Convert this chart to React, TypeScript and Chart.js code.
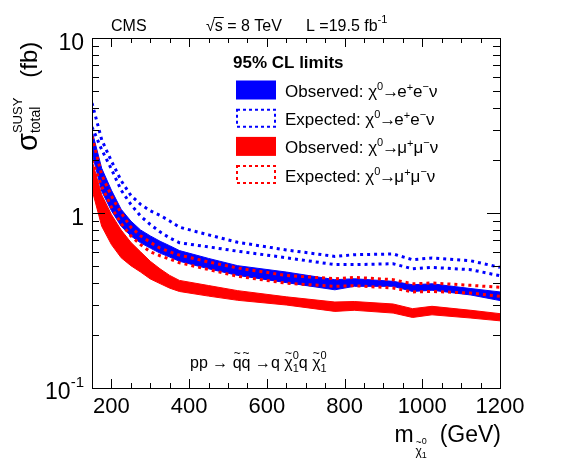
import React, { useEffect, useRef } from "react";
import { Chart, registerables } from "chart.js";

Chart.register(...registerables);

// ---- data ----
const masses = [150, 175, 200, 225, 250, 275, 300, 325, 350, 375, 450, 525, 650, 775, 825, 925, 975, 1025, 1125, 1200];

const eeObservedHigh = [2.95, 1.8, 1.35, 1.05, 0.9, 0.8, 0.74, 0.69, 0.65, 0.61, 0.55, 0.5, 0.46, 0.416, 0.421, 0.407, 0.389, 0.394, 0.37, 0.354];
const eeObservedLow = [2.2, 1.33, 1.03, 0.84, 0.74, 0.675, 0.63, 0.59, 0.56, 0.53, 0.48, 0.44, 0.4, 0.364, 0.381, 0.381, 0.356, 0.362, 0.34, 0.316];

const eeExpectedHigh = [4.25, 2.62, 1.98, 1.53, 1.26, 1.12, 1.03, 0.97, 0.9, 0.83, 0.75, 0.68, 0.615, 0.565, 0.578, 0.583, 0.541, 0.553, 0.533, 0.489];
const eeExpectedLow = [3.1, 2.3, 1.78, 1.35, 1.12, 0.96, 0.86, 0.78, 0.72, 0.676, 0.64, 0.605, 0.555, 0.507, 0.507, 0.513, 0.48, 0.489, 0.474, 0.438];

const mumuObservedHigh = [2.0, 1.27, 0.98, 0.8, 0.68, 0.6, 0.53, 0.48, 0.44, 0.412, 0.385, 0.36, 0.332, 0.31, 0.312, 0.302, 0.284, 0.293, 0.278, 0.266];
const mumuObservedLow = [1.36, 0.84, 0.66, 0.555, 0.5, 0.46, 0.42, 0.395, 0.372, 0.356, 0.335, 0.317, 0.298, 0.274, 0.278, 0.268, 0.253, 0.262, 0.251, 0.242];

const mumuExpectedHigh = [2.74, 1.65, 1.25, 1.0, 0.83, 0.74, 0.68, 0.63, 0.6, 0.575, 0.525, 0.485, 0.44, 0.421, 0.429, 0.416, 0.394, 0.398, 0.386, 0.376];
const mumuExpectedLow = [2.0, 1.42, 1.08, 0.87, 0.74, 0.66, 0.6, 0.57, 0.545, 0.52, 0.475, 0.435, 0.397, 0.381, 0.384, 0.373, 0.354, 0.356, 0.349, 0.334];

const xMajorTicks = [200, 400, 600, 800, 1000, 1200];
const xTickLabels = ["200", "400", "600", "800", "1000", "1200"];
const yDecades = [0.1, 1];

const BLUE = "#0000ff";
const RED = "#ff0000";
const FONT = '"Liberation Sans", Arial, Helvetica, sans-serif';

type Seg = { t: string; size: number; dy?: number; bold?: boolean; back?: boolean; over?: boolean; gap?: number; ox?: number };

function rich(ctx: CanvasRenderingContext2D, x: number, y: number, segs: Seg[], draw: boolean): number {
  let cx = x;
  let pending = 0;
  let lastStart = x;
  let lastW = 0;
  for (const s of segs) {
    ctx.font = `${s.bold ? "bold " : ""}${s.size}px ${FONT}`;
    const w = ctx.measureText(s.t).width;
    if (s.over) {
      if (draw) ctx.fillText(s.t, lastStart + lastW / 2 - w / 2 + (s.ox || 0), y + (s.dy || 0));
      continue;
    }
    if (draw) ctx.fillText(s.t, cx, y + (s.dy || 0));
    lastStart = cx;
    lastW = w;
    if (s.back) {
      pending = Math.max(pending, w);
    } else {
      cx += Math.max(w, pending) + (s.gap || 0);
      pending = 0;
    }
  }
  return cx + pending - x;
}

function pts(vals: number[]) {
  return masses.map((m, i) => ({ x: m, y: vals[i] }));
}

const decor = {
  id: "decor",
  afterDraw(chart: any) {
    const ctx: CanvasRenderingContext2D = chart.ctx;
    const xs = chart.scales.x;
    const ys = chart.scales.y;
    const a = chart.chartArea;
    ctx.save();
    ctx.fillStyle = "#000";
    ctx.strokeStyle = "#000";
    ctx.lineWidth = 1;
    ctx.setLineDash([]);
    ctx.textBaseline = "alphabetic";
    ctx.textAlign = "left";
    // frame
    ctx.strokeRect(Math.round(a.left) + 0.5, Math.round(a.top) + 0.5, Math.round(a.right - a.left), Math.round(a.bottom - a.top));
    // x ticks
    ctx.beginPath();
    for (let v = 200; v < 1200; v += 50) {
      const px = Math.round(xs.getPixelForValue(v)) + 0.5;
      const len = v % 200 === 0 ? 9 : 5;
      ctx.moveTo(px, a.bottom);
      ctx.lineTo(px, a.bottom - len);
      ctx.moveTo(px, a.top);
      ctx.lineTo(px, a.top + len);
    }
    // y ticks
    for (const d of yDecades) {
      for (let k = 1; k <= 9; k++) {
        const v = d * k;
        const py = Math.round(ys.getPixelForValue(v)) + 0.5;
        const len = k === 1 ? 13 : 7;
        ctx.moveTo(a.left, py);
        ctx.lineTo(a.left + len, py);
        ctx.moveTo(a.right, py);
        ctx.lineTo(a.right - len, py);
      }
    }
    ctx.stroke();

    // x tick labels
    ctx.font = `22px ${FONT}`;
    ctx.textAlign = "center";
    xMajorTicks.forEach((v, i) => {
      ctx.fillText(xTickLabels[i], xs.getPixelForValue(v), a.bottom + 25);
    });
    // y tick labels
    ctx.textAlign = "right";
    ctx.font = `23px ${FONT}`;
    ctx.fillText("10", a.left - 8, ys.getPixelForValue(10) + 12);
    ctx.fillText("1", a.left - 8, ys.getPixelForValue(1) + 12);
    ctx.textAlign = "left";
    {
      const segs: Seg[] = [
        { t: "10", size: 23 },
        { t: "-1", size: 15, dy: -12 },
      ];
      const w = rich(ctx, 0, 0, segs, false);
      rich(ctx, a.left - 8 - w, ys.getPixelForValue(0.1) + 11, segs, true);
    }

    // x axis title
    {
      const segs: Seg[] = [
        { t: "m", size: 23, gap: 2 },
        { t: "χ", size: 12, dy: 13 },
        { t: "~", size: 10, dy: 4, over: true },
        { t: "0", size: 9, dy: 2, back: true },
        { t: "1", size: 9, dy: 16 },
        { t: "  (GeV)", size: 23 },
      ];
      const w = rich(ctx, 0, 0, segs, false);
      rich(ctx, a.right + 1 - w, 442, segs, true);
    }

    // y axis title (rotated)
    ctx.save();
    ctx.translate(37, 151);
    ctx.rotate(-Math.PI / 2);
    rich(ctx, 0, 0, [
      { t: "σ", size: 29 },
      { t: "SUSY", size: 13, dy: -15, back: true },
      { t: "total", size: 14, dy: 3 },
      { t: "   (fb)", size: 24 },
    ], true);
    ctx.restore();

    // top labels
    ctx.font = `16px ${FONT}`;
    ctx.fillText("CMS", 111, 31);
    {
      const x0 = 206;
      ctx.font = `16px ${FONT}`;
      const wr = ctx.measureText("√").width;
      const ws = ctx.measureText("s").width;
      ctx.fillText("√s = 8 TeV", x0, 31);
      ctx.beginPath();
      ctx.moveTo(x0 + wr - 1, 17.5);
      ctx.lineTo(x0 + wr + ws + 1, 17.5);
      ctx.stroke();
    }
    rich(ctx, 306, 31, [
      { t: "L =19.5 fb", size: 16 },
      { t: "-1", size: 11, dy: -8 },
    ], true);

    // legend
    ctx.font = `bold 17px ${FONT}`;
    ctx.fillText("95% CL limits", 233, 68);
    const rows = [
      { c: BLUE, filled: true, label: "Observed: ", lep: ["e", "+", "e", "−"] },
      { c: BLUE, filled: false, label: "Expected: ", lep: ["e", "+", "e", "−"] },
      { c: RED, filled: true, label: "Observed: ", lep: ["μ", "+", "μ", "−"] },
      { c: RED, filled: false, label: "Expected: ", lep: ["μ", "+", "μ", "−"] },
    ];
    rows.forEach((r, i) => {
      const cy = 90 + i * 28.2;
      if (r.filled) {
        ctx.fillStyle = r.c;
        ctx.fillRect(236, cy - 9.5, 40, 19);
        ctx.fillStyle = "#000";
      } else {
        ctx.save();
        ctx.strokeStyle = r.c;
        ctx.lineWidth = 2;
        ctx.setLineDash([3, 3]);
        ctx.strokeRect(237, cy - 8.5, 38, 17);
        ctx.restore();
      }
      ctx.fillStyle = "#000";
      rich(ctx, 285, cy + 7, [
        { t: r.label, size: 17 },
        { t: "χ", size: 17 },
        { t: "0", size: 11, dy: -7, gap: -1 },
        { t: "→", size: 17, gap: -2 },
        { t: r.lep[0], size: 17 },
        { t: r.lep[1], size: 11, dy: -6 },
        { t: r.lep[2], size: 17 },
        { t: r.lep[3], size: 11, dy: -7 },
        { t: "ν", size: 17 },
      ], true);
    });

    // process label
    rich(ctx, 190, 368, [
      { t: "pp → ", size: 16 },
      { t: "q", size: 16 },
      { t: "~", size: 12, dy: -11, over: true },
      { t: "q", size: 16 },
      { t: "~", size: 12, dy: -11, over: true },
      { t: " →q ", size: 16 },
      { t: "χ", size: 16 },
      { t: "~", size: 12, dy: -11, over: true },
      { t: "0", size: 11, dy: -9, back: true },
      { t: "1", size: 11, dy: 4 },
      { t: "q ", size: 16 },
      { t: "χ", size: 16 },
      { t: "~", size: 12, dy: -11, over: true },
      { t: "0", size: 11, dy: -9, back: true },
      { t: "1", size: 11, dy: 4 },
    ], true);

    ctx.restore();
  },
};

export default function App() {
  const ref = useRef<HTMLCanvasElement | null>(null);
  useEffect(() => {
    document.body.style.margin = "0";
    if (!ref.current) return;
    const band = (vals: number[], color: string, fill: any, order: number) => ({
      data: pts(vals),
      borderColor: color,
      backgroundColor: color,
      borderWidth: 1,
      pointRadius: 0,
      fill,
      tension: 0,
      order,
    });
    const dotted = (vals: number[], color: string, order: number) => ({
      data: pts(vals),
      borderColor: color,
      backgroundColor: color,
      borderWidth: 3,
      borderDash: [3, 4],
      borderCapStyle: "butt",
      pointRadius: 0,
      fill: false,
      tension: 0,
      order,
    });
    const chart = new Chart(ref.current, {
      type: "line",
      data: {
        datasets: [
          band(mumuObservedHigh, RED, "+1", 6),
          band(mumuObservedLow, RED, false, 6),
          band(eeObservedHigh, BLUE, "+1", 5),
          band(eeObservedLow, BLUE, false, 5),
          dotted(eeExpectedHigh, BLUE, 3),
          dotted(eeExpectedLow, BLUE, 3),
          dotted(mumuExpectedHigh, RED, 2),
          dotted(mumuExpectedLow, RED, 2),
        ] as any,
      },
      options: {
        responsive: false,
        animation: false,
        layout: { padding: { left: 92, right: 68, top: 38, bottom: 80 } },
        plugins: { legend: { display: false }, tooltip: { enabled: false } },
        scales: {
          x: { type: "linear", min: 150, max: 1200, display: false },
          y: { type: "logarithmic", min: 0.1, max: 10, display: false },
        },
      },
      plugins: [decor],
    });
    return () => chart.destroy();
  }, []);
  return (
    <div style={{ width: 568, height: 468, background: "#fff" }}>
      <canvas ref={ref} width={568} height={468} style={{ display: "block" }} />
    </div>
  );
}
